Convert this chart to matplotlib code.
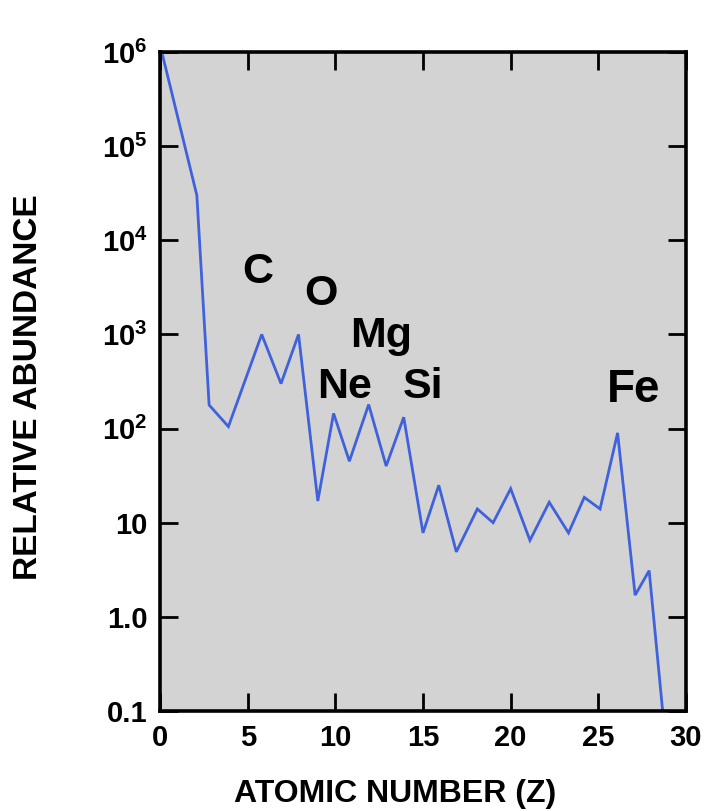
import matplotlib
matplotlib.use("Agg")
import matplotlib.pyplot as plt
import numpy as np

plt.rcParams['font.family'] = ['Liberation Sans', 'DejaVu Sans']
plt.rcParams['font.weight'] = 'bold'
plt.rcParams['mathtext.fontset'] = 'custom'
plt.rcParams['mathtext.rm'] = 'Liberation Sans:bold'
plt.rcParams['mathtext.bf'] = 'Liberation Sans:bold'
plt.rcParams['mathtext.it'] = 'Liberation Sans:bold'

# atomic number positions (as drawn) and relative abundance
z = [0.1, 2.1, 2.8, 3.9, 5.8, 6.9, 7.9, 9.0, 9.9, 10.8, 11.9, 12.9, 13.9, 15.0,
     15.9, 16.9, 18.1, 19.0, 20.0, 21.1, 22.2, 23.3, 24.2, 25.1, 26.1, 27.1,
     27.9, 29.0]
abund = [1e6, 3e4, 178, 105, 1000, 300, 1000, 17, 145, 45, 180, 40, 132, 7.8,
         25, 4.9, 14, 10, 23, 6.5, 16.5, 7.8, 18.6, 14, 90, 1.7, 3.1, 0.023]

# element labels: text, x, baseline y
elem_names = ['C', 'O', 'Mg', 'Ne', 'Si', 'Fe']
elem_x = [5.6, 9.15, 12.6, 10.5, 15.0, 27.0]
elem_y = [10**3.545, 10**3.311, 10**2.865, 10**2.323, 10**2.323, 10**2.28]

xticks = [0, 5, 10, 15, 20, 25, 30]
yticks = [0.1, 1.0, 10, 100, 1e3, 1e4, 1e5, 1e6]
ytick_labels = ['0.1', '1.0', '10', r'$10^2$', r'$10^3$', r'$10^4$', r'$10^5$', r'$10^6$']

fig = plt.figure(figsize=(7.05, 8.11), dpi=100)
ax = fig.add_axes([0.227, 0.1233, 0.746, 0.8126])
ax.set_facecolor('#d3d3d3')

ax.plot(z, abund, color='#3f62dc', lw=2.0, solid_joinstyle='miter')

for name, x, y in zip(elem_names, elem_x, elem_y):
    fs = 33 if name == 'Fe' else 31
    ax.text(x, y, name, ha='center', va='baseline', fontsize=fs, fontweight='bold')

ax.set_yscale('log')
ax.set_xlim(0, 30)
ax.set_ylim(0.1, 1e6)
ax.set_xticks(xticks)
ax.set_xticklabels([str(t) for t in xticks])
ax.set_yticks(yticks)
ax.set_yticklabels(ytick_labels)
ax.minorticks_off()

ax.tick_params(direction='in', length=13, width=2, top=True, right=True,
               labelsize=21, pad=9)
for s in ax.spines.values():
    s.set_linewidth(2.6)

ax.set_xlabel('ATOMIC NUMBER (Z)', fontsize=23, fontweight='bold', labelpad=20)
ax.xaxis.label.set_x(0.447)
ax.set_ylabel('RELATIVE ABUNDANCE', fontsize=24, fontweight='bold')
ax.yaxis.set_label_coords(-0.221, 0.492)

fig.savefig('out.png', dpi=100)
